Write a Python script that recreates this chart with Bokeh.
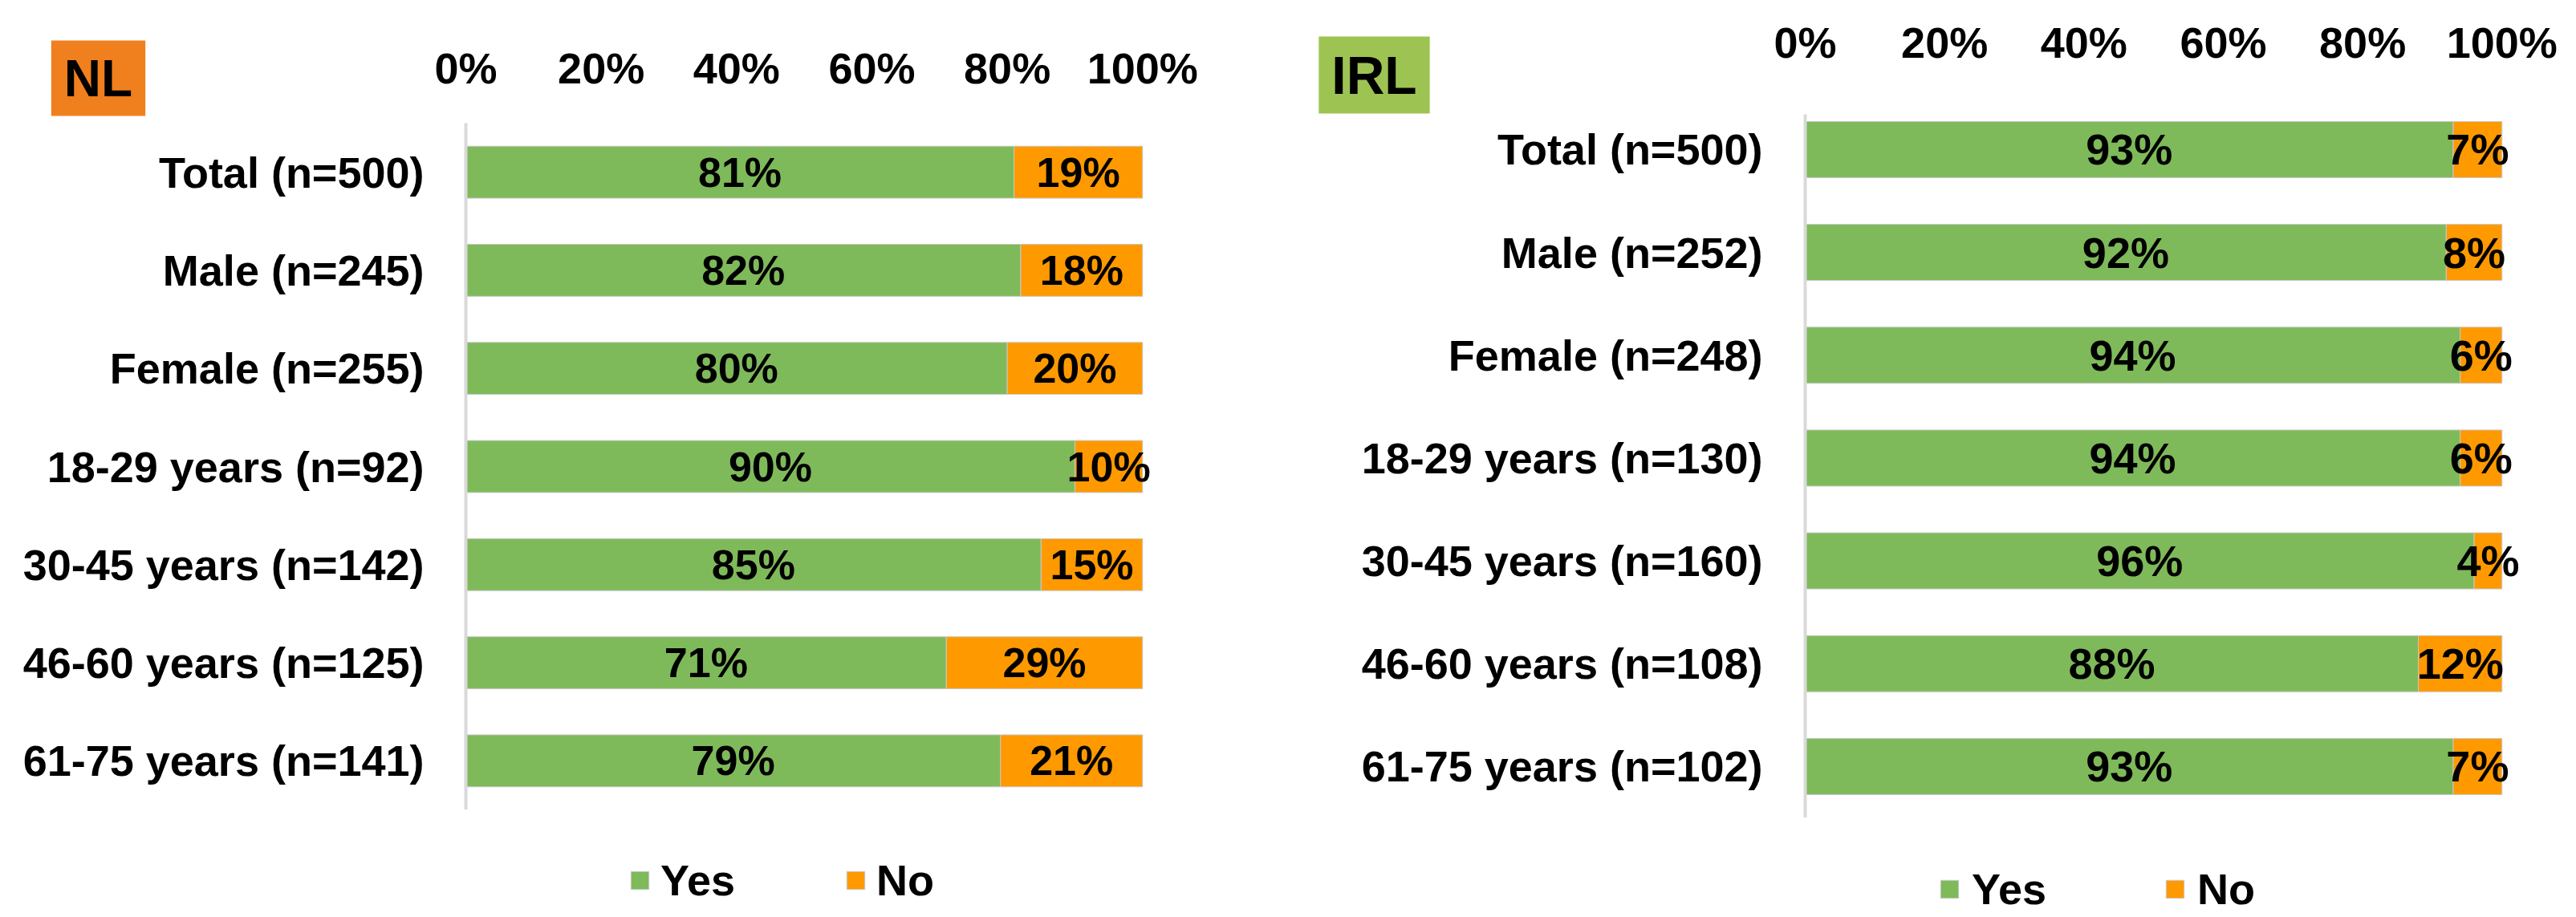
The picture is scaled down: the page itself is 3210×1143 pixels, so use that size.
from bokeh.plotting import figure
from bokeh.models import (ColumnDataSource, Range1d, FixedTicker,
                          Legend, LegendItem, Label)
from bokeh.layouts import row, column
from bokeh.embed import file_html
from bokeh.resources import INLINE
from bokeh.core.properties import value

# ---------------- data ----------------
nl_categories = ["Total (n=500)", "Male (n=245)", "Female (n=255)",
                 "18-29 years (n=92)", "30-45 years (n=142)",
                 "46-60 years (n=125)", "61-75 years (n=141)"]
nl_yes = [81, 82, 80, 90, 85, 71, 79]
nl_no = [19, 18, 20, 10, 15, 29, 21]

irl_categories = ["Total (n=500)", "Male (n=252)", "Female (n=248)",
                  "18-29 years (n=130)", "30-45 years (n=160)",
                  "46-60 years (n=108)", "61-75 years (n=102)"]
irl_yes = [93, 92, 94, 94, 96, 88, 93]
irl_no = [7, 8, 6, 6, 4, 12, 7]

tick_values = [0, 20, 40, 60, 80, 100]
tick_labels = ["0%", "20%", "40%", "60%", "80%", "100%"]
series_names = ["Yes", "No"]

GREEN = "#7FBA5A"
ORANGE = "#FF9900"
BAR_LINE = "#C8C8C8"
FONT = "Liberation Sans"
PAGE_H = 1140


def base_fig(**kw):
    p = figure(output_backend="svg", toolbar_location=None,
               background_fill_color="white", border_fill_color="white",
               frame_align=False, **kw)
    p.outline_line_color = None
    p.grid.visible = False
    return p


def blank(width, height):
    return base_fig(frame_width=width, frame_height=height, min_border=0,
                    x_range=Range1d(0, 1), y_range=Range1d(0, 1),
                    x_axis_location=None, y_axis_location=None)


def badge_fig(text, color, width, height, cx, cy, fs, pad):
    p = blank(width, height)
    p.add_layout(Label(x=cx, y=cy, x_units="screen", y_units="screen",
                       text=text, text_align="center", text_baseline="middle",
                       text_font=FONT, text_font_style="bold",
                       text_font_size=f"{fs}px", text_color="black",
                       background_fill_color=color, background_fill_alpha=1.0,
                       padding=pad))
    return p


def tick_fig(xr, width, height, bl, fw, tick_standoff):
    fh = 20
    p = base_fig(x_range=xr, y_range=Range1d(0, 1),
                 frame_width=fw, frame_height=fh,
                 min_border_left=bl, min_border_right=width - bl - fw,
                 min_border_top=height - fh, min_border_bottom=0,
                 x_axis_location="above", y_axis_location=None)
    xa = p.xaxis[0]
    xa.ticker = FixedTicker(ticks=tick_values)
    xa.major_label_overrides = {v: t for v, t in zip(tick_values, tick_labels)}
    xa.axis_line_color = None
    xa.major_tick_line_color = None
    xa.minor_tick_line_color = None
    xa.major_tick_out = 0
    xa.major_tick_in = 0
    xa.major_label_standoff = tick_standoff
    xa.major_label_text_font = FONT
    xa.major_label_text_font_style = "bold"
    xa.major_label_text_font_size = "54px"
    xa.major_label_text_color = "black"
    return p


def bar_fig(xr, cats, yes, no, width, bl, fw, fh, yr, bar_h, fs, cat_standoff):
    n = len(cats)
    pos = [n - 1 - i for i in range(n)]          # first category on top
    src = ColumnDataSource(dict(
        pos=pos, yes=yes, no=no,
        yes_mid=[v / 2 for v in yes],
        no_mid=[a + b / 2 for a, b in zip(yes, no)],
        yes_lbl=[f"{v}%" for v in yes],
        no_lbl=[f"{v}%" for v in no],
    ))
    p = base_fig(x_range=xr, y_range=yr,
                 frame_width=fw, frame_height=fh,
                 min_border_left=bl, min_border_right=width - bl - fw,
                 min_border_top=0, min_border_bottom=0,
                 x_axis_location=None)

    p.hbar_stack(["yes", "no"], y="pos", height=bar_h,
                 color=[GREEN, ORANGE], line_color=BAR_LINE,
                 line_width=1, source=src)

    for xcol, tcol in (("yes_mid", "yes_lbl"), ("no_mid", "no_lbl")):
        p.text(x=xcol, y="pos", text=tcol, source=src,
               text_align="center", text_baseline="middle",
               text_font=value(FONT), text_font_style="bold",
               text_font_size=f"{fs}px", text_color="black")

    ya = p.yaxis[0]
    ya.ticker = FixedTicker(ticks=pos)
    ya.major_label_overrides = {k: c for k, c in zip(pos, cats)}
    ya.axis_line_color = "#D9D9D9"
    ya.axis_line_width = 4
    ya.major_tick_line_color = None
    ya.minor_tick_line_color = None
    ya.major_tick_out = 0
    ya.major_tick_in = 0
    ya.major_label_standoff = cat_standoff
    ya.major_label_text_font = FONT
    ya.major_label_text_font_style = "bold"
    ya.major_label_text_font_size = "54px"
    ya.major_label_text_color = "black"
    return p


def legend_fig(width, height, loc, standoff, spacing):
    p = blank(width, height)
    # zero-length bars carrying the series styles for the legend swatches
    r_yes = p.hbar(y=[0], left=[0], right=[0], height=0, fill_color=GREEN,
                   line_color=BAR_LINE, line_width=1)
    r_no = p.hbar(y=[0], left=[0], right=[0], height=0, fill_color=ORANGE,
                  line_color=BAR_LINE, line_width=1)
    legend = Legend(items=[LegendItem(label=series_names[0], renderers=[r_yes]),
                           LegendItem(label=series_names[1], renderers=[r_no])],
                    orientation="horizontal", location=loc,
                    glyph_width=28, glyph_height=28, label_height=28,
                    label_standoff=standoff, label_width=100,
                    spacing=spacing, padding=0, margin=0,
                    border_line_alpha=0, background_fill_alpha=0,
                    label_text_font=FONT, label_text_font_style="bold",
                    label_text_font_size="54px", label_text_color="black",
                    label_text_baseline="middle")
    p.add_layout(legend)
    return p


# ---------------- NL panel (page x 0..1608) ----------------
nl_xr = Range1d(0, 104)
nl_badge = badge_fig("NL", "#F07F1E", 528, 153, 122, 56, 64, (16, 11))
nl_ticks = tick_fig(nl_xr, 1080, 153, 52, 877, 19)
nl_bars = bar_fig(nl_xr, nl_categories, nl_yes, nl_no, 1608, 580, 877, 856,
                  Range1d(-0.5, 6.5), 0.53, 52, 52)
nl_leg = legend_fig(1608, PAGE_H - 1009, (783, 12), 12, 129)

# ---------------- IRL panel (page x 1608..3202) ----------------
irl_xr = Range1d(0, 104)
irl_badge = badge_fig("IRL", "#9DC453", 591, 142, 104, 49, 66, (16, 11))
irl_ticks = tick_fig(irl_xr, 1003, 142, 50, 903, 40)
irl_bars = bar_fig(irl_xr, irl_categories, irl_yes, irl_no, 1594, 641, 903, 877,
                   Range1d(-0.5, 6.343), 0.546, 54, 53)
irl_leg = legend_fig(1594, PAGE_H - 1019, (807, 1), 14, 139)

layout = row(
    column(row(nl_badge, nl_ticks, spacing=0), nl_bars, nl_leg, spacing=0),
    column(row(irl_badge, irl_ticks, spacing=0), irl_bars, irl_leg, spacing=0),
    spacing=0)
open("out.html", "w").write(file_html(layout, INLINE))
